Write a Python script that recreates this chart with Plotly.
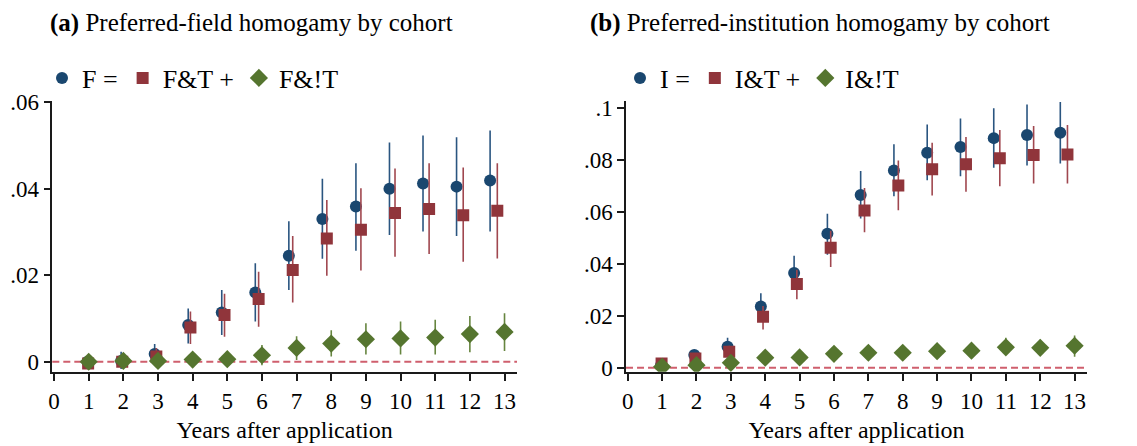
import plotly.graph_objects as go
from plotly.subplots import make_subplots

years = list(range(1, 14))
x_ticks = list(range(0, 14))

# Panel (a): preferred-field homogamy
f_eq_pt = [0.0000, 0.0002, 0.0018, 0.0085, 0.0114, 0.0160, 0.0245, 0.0330, 0.0359, 0.0400, 0.0412, 0.0405, 0.0419]
f_eq_lo = [-0.0010, -0.0017, -0.0004, 0.0042, 0.0062, 0.0093, 0.0166, 0.0238, 0.0257, 0.0293, 0.0301, 0.0291, 0.0301]
f_eq_hi = [0.0010, 0.0023, 0.0041, 0.0123, 0.0166, 0.0228, 0.0325, 0.0423, 0.0459, 0.0507, 0.0523, 0.0519, 0.0535]

f_t_pt = [-0.0004, 0.0000, 0.0012, 0.0079, 0.0108, 0.0145, 0.0212, 0.0285, 0.0305, 0.0344, 0.0353, 0.0339, 0.0349]
f_t_lo = [-0.0012, -0.0012, -0.0008, 0.0041, 0.0058, 0.0081, 0.0137, 0.0199, 0.0211, 0.0243, 0.0249, 0.0231, 0.0239]
f_t_hi = [0.0004, 0.0012, 0.0032, 0.0116, 0.0157, 0.0208, 0.0291, 0.0374, 0.0401, 0.0447, 0.0459, 0.0449, 0.0459]

f_nt_pt = [0.0000, 0.0002, 0.0002, 0.0005, 0.0006, 0.0015, 0.0032, 0.0042, 0.0052, 0.0054, 0.0056, 0.0064, 0.0069]
f_nt_lo = [-0.0004, -0.0004, -0.0004, -0.0002, -0.0002, -0.0008, 0.0004, 0.0012, 0.0017, 0.0017, 0.0017, 0.0022, 0.0025]
f_nt_hi = [0.0004, 0.0008, 0.0008, 0.0012, 0.0014, 0.0039, 0.0059, 0.0073, 0.0089, 0.0093, 0.0097, 0.0106, 0.0112]

# Panel (b): preferred-institution homogamy
i_eq_pt = [0.0010, 0.0049, 0.0081, 0.0236, 0.0365, 0.0517, 0.0666, 0.0760, 0.0829, 0.0851, 0.0885, 0.0897, 0.0906]
i_eq_lo = [0.0000, 0.0030, 0.0050, 0.0191, 0.0300, 0.0436, 0.0575, 0.0661, 0.0723, 0.0738, 0.0771, 0.0780, 0.0787]
i_eq_hi = [0.0020, 0.0068, 0.0116, 0.0287, 0.0432, 0.0594, 0.0758, 0.0861, 0.0938, 0.0961, 0.1000, 0.1015, 0.1024]

i_t_pt = [0.0017, 0.0036, 0.0062, 0.0197, 0.0323, 0.0463, 0.0606, 0.0702, 0.0765, 0.0784, 0.0807, 0.0820, 0.0822]
i_t_lo = [0.0008, 0.0020, 0.0040, 0.0148, 0.0264, 0.0388, 0.0522, 0.0607, 0.0664, 0.0678, 0.0700, 0.0710, 0.0710]
i_t_hi = [0.0026, 0.0052, 0.0085, 0.0238, 0.0378, 0.0528, 0.0693, 0.0799, 0.0867, 0.0889, 0.0916, 0.0932, 0.0936]

i_nt_pt = [0.0004, 0.0010, 0.0019, 0.0039, 0.0040, 0.0054, 0.0058, 0.0058, 0.0064, 0.0066, 0.0079, 0.0077, 0.0085]
i_nt_lo = [-0.0004, 0.0000, 0.0005, 0.0022, 0.0022, 0.0035, 0.0036, 0.0036, 0.0040, 0.0041, 0.0050, 0.0048, 0.0043]
i_nt_hi = [0.0012, 0.0020, 0.0033, 0.0056, 0.0058, 0.0073, 0.0080, 0.0080, 0.0088, 0.0091, 0.0116, 0.0108, 0.0124]

names_a = ["F =", "F&T +", "F&!T"]
names_b = ["I =", "I&T +", "I&!T"]
titles = ["<b>(a)</b> Preferred-field homogamy by cohort",
          "<b>(b)</b> Preferred-institution homogamy by cohort"]
x_title = "Years after application"
yticks_a = [0, 0.02, 0.04, 0.06]
ylabels_a = ["0", ".02", ".04", ".06"]
yticks_b = [0, 0.02, 0.04, 0.06, 0.08, 0.1]
ylabels_b = ["0", ".02", ".04", ".06", ".08", ".1"]

FONT = "Liberation Serif"
NAVY = "#1a476f"
MAROON = "#90353b"
GREEN = "#55752f"
colors = [NAVY, MAROON, GREEN]
ci_colors = ["#2a5580", "#a0474f", "#66853f"]
symbols = ["circle", "square", "diamond"]
sizes = [12, 12, 14]
dodge = [0.968, 0.984, 1.0]  # horizontal dodge factors per series

fig = make_subplots(rows=1, cols=2)

panels = [
    (1, "legend", names_a, [(f_eq_pt, f_eq_lo, f_eq_hi), (f_t_pt, f_t_lo, f_t_hi), (f_nt_pt, f_nt_lo, f_nt_hi)]),
    (2, "legend2", names_b, [(i_eq_pt, i_eq_lo, i_eq_hi), (i_t_pt, i_t_lo, i_t_hi), (i_nt_pt, i_nt_lo, i_nt_hi)]),
]

for col, leg, names, series in panels:
    for k, (pt, lo, hi) in enumerate(series):
        xs = [y * dodge[k] for y in years]
        fig.add_trace(go.Scatter(
            x=xs, y=pt, mode="markers", name=names[k], legend=leg,
            marker=dict(symbol=symbols[k], size=sizes[k], color=colors[k], line=dict(width=0)),
            error_y=dict(type="data", symmetric=False,
                         array=[h - p for h, p in zip(hi, pt)],
                         arrayminus=[p - l for p, l in zip(pt, lo)],
                         color=ci_colors[k], thickness=1.6, width=0),
            hoverinfo="skip",
        ), row=1, col=col)

axis_common = dict(showgrid=False, zeroline=False, showline=True, linecolor="#1a1a1a",
                   linewidth=1.5, ticks="outside", tickcolor="#1a1a1a", tickwidth=1.5,
                   automargin=False,
                   tickfont=dict(family=FONT, size=23, color="black"))

fig.update_xaxes(**axis_common, ticklen=8, tickvals=x_ticks, range=[-0.05, 13.36],
                 title=dict(text=x_title, font=dict(family=FONT, size=24, color="black"), standoff=8))
fig.update_yaxes(**axis_common, ticklen=7)
fig.update_xaxes(domain=[0.046, 0.4547], row=1, col=1)
fig.update_xaxes(domain=[0.5506, 0.956], row=1, col=2)
fig.update_yaxes(domain=[0.1666, 0.7735], tickvals=yticks_a, ticktext=ylabels_a,
                 range=[-0.0023, 0.0603], row=1, col=1)
fig.update_yaxes(domain=[0.1666, 0.7735], tickvals=yticks_b, ticktext=ylabels_b,
                 range=[-0.0015, 0.1028], row=1, col=2)

for xr, yr in [("x", "y"), ("x2", "y2")]:
    fig.add_shape(type="line", xref=f"{xr} domain", yref=yr, x0=0, x1=1, y0=0, y1=0,
                  line=dict(color="#cf5f6d", width=2, dash="7px,4px"), layer="below")

fig.add_annotation(text=titles[0], xref="paper", yref="paper", x=48/1137, y=1-23/446,
                   xanchor="left", yanchor="middle", showarrow=False,
                   font=dict(family=FONT, size=25, color="black"))
fig.add_annotation(text=titles[1], xref="paper", yref="paper", x=588/1137, y=1-23/446,
                   xanchor="left", yanchor="middle", showarrow=False,
                   font=dict(family=FONT, size=25, color="black"))

legend_common = dict(orientation="h", yanchor="middle", xanchor="left", y=1-78/446,
                     bgcolor="rgba(0,0,0,0)", borderwidth=0,
                     font=dict(family=FONT, size=26, color="black"), itemclick=False)
fig.update_layout(
    width=1137, height=446,
    margin=dict(l=0, r=0, t=0, b=0, autoexpand=False),
    paper_bgcolor="white", plot_bgcolor="white",
    showlegend=True,
    legend=dict(**legend_common, x=42/1137),
    legend2=dict(**legend_common, x=620/1137),
    font=dict(family=FONT, color="black"),
)

fig.write_html("out.html", config={"displayModeBar": False},
               post_script="document.body.style.margin='0';document.body.style.padding='0';document.body.style.overflow='hidden';")
